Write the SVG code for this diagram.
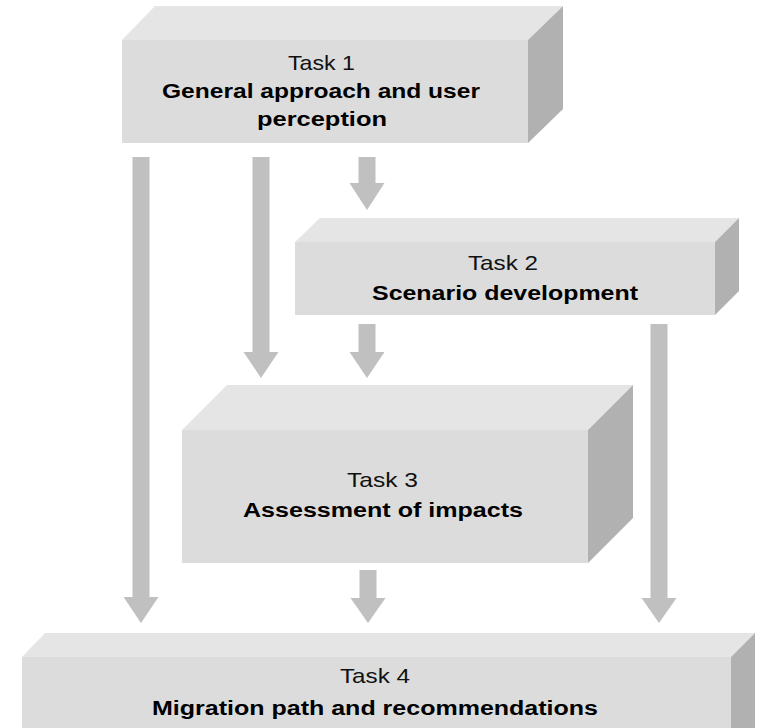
<svg xmlns="http://www.w3.org/2000/svg" width="758" height="728" viewBox="0 0 758 728">
<style>
.front{fill:#dcdcdc}
.top{fill:#e5e5e5}
.side{fill:#b1b1b1}
.arrow{fill:#c0c0c0}
.t{font-family:"Liberation Sans",Arial,sans-serif;font-size:21px;fill:#111;text-anchor:start}
.b{font-family:"Liberation Sans",Arial,sans-serif;font-size:20px;font-weight:bold;fill:#000;text-anchor:start}
</style>
<rect width="758" height="728" fill="#fff"/>
<g id="connectors">
<path class="arrow" d="M132.5,157h17v440h9l-17.5,26l-17.5,-26h9z"/>
<path class="arrow" d="M252.5,157h17v195h9l-17.5,26l-17.5,-26h9z"/>
<path class="arrow" d="M358.5,157h17v26h9l-17.5,27l-17.5,-27h9z"/>
<path class="arrow" d="M358.5,324h17v28h9l-17.5,26l-17.5,-26h9z"/>
<path class="arrow" d="M650.5,324h17v274h9l-17.5,25l-17.5,-25h9z"/>
<path class="arrow" d="M359.5,570h17v28h9l-17.5,25l-17.5,-25h9z"/>
</g>
<g id="task1">
<polygon class="top" points="122,40 155,6 563,6 528,40"/>
<polygon class="side" points="528,40 563,6 563,109 528,143"/>
<rect class="front" x="122" y="40" width="406" height="103"/>
<text class="t" x="288" y="70" textLength="67" lengthAdjust="spacingAndGlyphs">Task 1</text>
<text class="b" x="162" y="98" textLength="318" lengthAdjust="spacingAndGlyphs">General approach and user</text>
<text class="b" x="257" y="126" textLength="130" lengthAdjust="spacingAndGlyphs">perception</text>
</g>
<g id="task2">
<polygon class="top" points="295,242 320,218 739,218 715,242"/>
<polygon class="side" points="715,242 739,218 739,291 715,315"/>
<rect class="front" x="295" y="242" width="420" height="73"/>
<text class="t" x="468" y="270" textLength="70" lengthAdjust="spacingAndGlyphs">Task 2</text>
<text class="b" x="372" y="300" textLength="266" lengthAdjust="spacingAndGlyphs">Scenario development</text>
</g>
<g id="task3">
<polygon class="top" points="182,430 227,385 633,385 588,430"/>
<polygon class="side" points="588,430 633,385 633,518 588,563"/>
<rect class="front" x="182" y="430" width="406" height="133"/>
<text class="t" x="347" y="487" textLength="71" lengthAdjust="spacingAndGlyphs">Task 3</text>
<text class="b" x="243" y="517" textLength="280" lengthAdjust="spacingAndGlyphs">Assessment of impacts</text>
</g>
<g id="task4">
<polygon class="top" points="22,657 45,633 755,633 731,657"/>
<polygon class="side" points="731,657 755,633 755,728 731,740"/>
<rect class="front" x="22" y="657" width="709" height="80"/>
<text class="t" x="340" y="683" textLength="70" lengthAdjust="spacingAndGlyphs">Task 4</text>
<text class="b" x="152" y="715" textLength="446" lengthAdjust="spacingAndGlyphs">Migration path and recommendations</text>
</g>
</svg>
